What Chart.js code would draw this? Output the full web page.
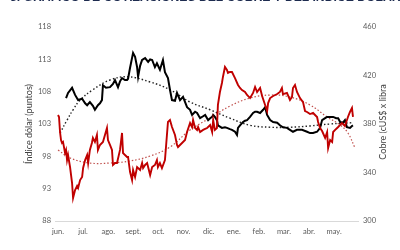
<!DOCTYPE html>
<html><head><meta charset="utf-8">
<script src="https://cdn.jsdelivr.net/npm/chart.js@4.4.1/dist/chart.umd.min.js"></script>
<style>
html,body{margin:0;padding:0;background:#fff;}
#wrap{position:relative;width:400px;height:250px;overflow:hidden;background:#fff;}
#title{position:absolute;left:10px;top:-10px;font:bold 12.2px "Liberation Sans",Arial,sans-serif;color:#1d2b4f;white-space:nowrap;}
canvas{position:absolute;left:0;top:0;}
</style></head><body>
<div id="wrap"><canvas id="c" width="400" height="250"></canvas><div id="title">3. GRÁFICO DE COTIZACIONES DEL COBRE Y DEL ÍNDICE DÓLAR</div></div>
<script>
const months = ['jun.','jul.','ago.','sept.','oct.','nov.','dic.','ene.','feb.','mar.','abr.','may.'];

// Índice dólar (left axis), time in months from June
const dollarT = [0.32,0.40,0.56,0.68,0.80,0.96,1.08,1.16,1.27,1.39,1.47,1.59,1.67,1.75,1.79,1.91,2.07,2.19,2.27,2.39,2.47,2.55,2.67,2.75,2.79,2.87,2.99,3.07,3.15,3.19,3.27,3.35,3.47,3.59,3.67,3.75,3.86,3.94,4.06,4.18,4.26,4.38,4.46,4.54,4.66,4.74,4.86,4.98,5.14,5.26,5.34,5.46,5.54,5.66,5.78,5.86,5.98,6.06,6.14,6.18,6.25,6.33,6.37,6.53,6.65,6.73,6.85,6.93,7.05,7.13,7.17,7.25,7.37,7.45,7.53,7.65,7.77,7.85,7.93,8.05,8.17,8.25,8.33,8.45,8.57,8.73,8.84,8.96,9.12,9.24,9.36,9.52,9.64,9.72,9.92,10.04,10.16,10.32,10.44,10.52,10.64,10.72,10.84,10.96,11.08,11.16,11.24,11.35,11.43,11.51,11.63,11.71,11.75];
const dollarV = [107.0,107.8,108.6,107.5,106.7,106.9,106.2,105.9,106.4,105.8,105.2,105.9,106.2,106.7,109.0,108.6,108.7,109.2,109.8,108.7,109.6,110.1,109.8,109.8,110.0,111.7,114.0,113.4,111.8,110.3,112.0,112.9,113.2,112.6,113.0,112.9,111.8,112.4,111.4,112.9,111.0,110.1,108.3,106.7,106.6,107.8,106.7,107.2,105.6,105.2,104.4,104.9,104.7,103.9,104.2,104.4,103.6,103.9,104.1,104.4,104.1,103.6,102.8,102.4,102.5,102.4,102.2,102.1,101.8,101.3,102.4,102.8,103.3,103.5,103.6,104.1,104.7,104.9,104.9,104.7,105.2,105.6,104.4,103.6,103.3,103.2,102.8,102.5,102.4,102.1,101.8,102.1,102.1,102.1,101.8,101.6,101.6,101.8,102.4,103.6,103.9,104.1,104.1,104.1,103.9,103.9,103.3,103.2,103.6,102.5,102.4,102.7,102.8];

// Cobre (right axis)
const copperT = [0,0.04,0.08,0.12,0.16,0.20,0.28,0.32,0.36,0.40,0.48,0.56,0.60,0.68,0.76,0.80,0.88,0.96,1.00,1.08,1.16,1.20,1.27,1.35,1.39,1.47,1.55,1.59,1.67,1.79,1.87,1.95,1.99,2.07,2.15,2.19,2.27,2.35,2.47,2.55,2.59,2.67,2.75,2.79,2.87,2.95,2.99,3.07,3.15,3.27,3.35,3.39,3.47,3.55,3.67,3.75,3.78,3.86,3.94,3.98,4.06,4.14,4.26,4.38,4.46,4.54,4.66,4.74,4.78,4.86,4.94,5.06,5.14,5.26,5.34,5.38,5.46,5.54,5.58,5.66,5.78,5.86,5.94,6.06,6.14,6.18,6.25,6.33,6.37,6.45,6.53,6.57,6.65,6.73,6.77,6.85,6.93,7.05,7.17,7.25,7.33,7.45,7.53,7.65,7.77,7.85,7.93,8.05,8.13,8.25,8.33,8.37,8.45,8.57,8.73,8.84,8.92,8.96,9.12,9.24,9.32,9.36,9.44,9.52,9.64,9.76,9.84,9.92,10.04,10.16,10.32,10.36,10.44,10.52,10.64,10.72,10.76,10.84,10.92,10.96,11.04,11.12,11.16,11.24,11.31,11.43,11.51,11.55,11.63,11.71,11.75];
const copperV = [387.4,385.8,373.4,366.8,364.3,365.2,356.1,358.6,350.3,354.4,344.5,331.3,319.0,325.6,328.9,327.2,333.8,336.3,343.7,350.3,354.4,347.8,358.6,364.3,368.5,365.2,370.9,358.6,362.7,365.2,370.9,376.7,366.8,362.7,358.6,346.2,347.8,347.8,358.6,372.6,356.1,354.4,352.8,352.8,340.4,333.8,342.1,336.3,344.5,342.1,347.8,343.7,346.2,347.8,337.9,344.5,344.5,346.2,350.3,344.5,347.8,343.7,350.3,381.7,383.3,377.5,370.9,362.7,361.0,362.7,364.3,366.8,373.4,380.8,377.5,383.3,376.7,375.1,377.5,373.4,375.1,375.9,376.7,379.2,373.4,383.3,375.1,376.7,395.7,406.4,413.8,418.8,427.0,424.5,422.1,422.9,422.9,417.9,412.2,409.7,408.0,406.4,403.9,401.4,405.6,410.5,406.4,409.7,403.1,395.7,390.7,397.3,401.4,403.1,404.7,406.4,409.7,404.7,405.6,399.8,402.3,409.7,412.2,406.4,401.4,398.1,390.7,389.9,388.2,389.1,385.8,381.7,376.7,374.2,368.5,373.4,360.2,366.8,365.2,373.4,375.1,376.7,377.5,379.2,380.8,378.4,383.3,385.8,389.9,393.2,385.8];

// Trend lines
const dollarTrendT = [0.08,0.36,0.60,0.88,1.39,2.07,2.79,3.67,4.46,5.26,6.06,6.85,7.65,8.45,9.24,10.04,10.84,11.75];
const dollarTrendV = [101.6,103.6,105.2,106.7,108.3,109.8,110.3,109.5,108.3,106.4,105.2,103.9,102.8,102.5,102.5,102.7,103.0,103.2];
const copperTrendT = [0,0.48,1.27,2.07,2.87,3.67,4.46,5.26,6.06,6.85,7.65,8.45,9.24,10.04,10.72,11.24,11.55,11.83];
const copperTrendV = [358.6,352.0,347.8,347.8,349.5,353.6,361.0,375.1,385.0,394.8,401.4,403.9,402.3,395.7,385.8,379.2,372.6,360.2];

const leftTicks = [88,93,98,103,108,113,118];
const rightTicks = [300,340,380,420,460];

const pts = (t, v) => t.map((x, i) => ({x: x, y: v[i]}));

const tickFont = {family: 'Lato', size: 7.5};
const tickColor = '#595959';

const rightTitle = {
  id: 'rightTitle',
  afterDraw(chart) {
    const ctx = chart.ctx;
    const a = chart.chartArea;
    ctx.save();
    ctx.translate(383, (a.top + a.bottom) / 2 - 2);
    ctx.rotate(-Math.PI / 2);
    ctx.font = '9px Lato';
    ctx.fillStyle = '#404040';
    ctx.textAlign = 'center';
    ctx.textBaseline = 'middle';
    ctx.fillText('Cobre (cUS$ x libra', 0, 0);
    ctx.restore();
  }
};

new Chart(document.getElementById('c'), {
  type: 'line',
  data: {
    datasets: [
      {label: 'Cobre', data: pts(copperT, copperV), yAxisID: 'y1', borderColor: '#c00000', borderWidth: 1.9, pointRadius: 0, tension: 0, fill: false},
      {label: 'Índice dólar', data: pts(dollarT, dollarV), yAxisID: 'y', borderColor: '#000000', borderWidth: 2, pointRadius: 0, tension: 0, fill: false},
      {label: 'Tendencia cobre', data: pts(copperTrendT, copperTrendV), yAxisID: 'y1', borderColor: '#c0504d', borderWidth: 1.2, borderDash: [1.5, 2], pointRadius: 0, tension: 0.4, fill: false},
      {label: 'Tendencia dólar', data: pts(dollarTrendT, dollarTrendV), yAxisID: 'y', borderColor: '#222222', borderWidth: 1.4, borderDash: [1.5, 2.2], pointRadius: 0, tension: 0.4, fill: false}
    ]
  },
  options: {
    responsive: false,
    animation: false,
    devicePixelRatio: 1,
    layout: {padding: {top: 27, left: 20, right: 0, bottom: 0}},
    plugins: {legend: {display: false}, tooltip: {enabled: false}},
    scales: {
      x: {
        type: 'linear', min: -0.12, max: 11.95,
        afterBuildTicks: s => { s.ticks = months.map((m, i) => ({value: i})); },
        afterFit: s => { s.height = 29; },
        grid: {display: false, drawTicks: false},
        border: {display: true, color: '#d9d9d9', width: 1},
        ticks: {font: tickFont, color: tickColor, padding: 6, autoSkip: false, maxRotation: 0,
          callback: v => months[v]}
      },
      y: {
        position: 'left', min: 88, max: 118,
        afterBuildTicks: s => { s.ticks = leftTicks.map(v => ({value: v})); },
        afterFit: s => { s.width = 35; },
        grid: {display: false, drawTicks: false},
        border: {display: false},
        ticks: {font: tickFont, color: tickColor, padding: 4},
        title: {display: true, text: 'Índice dólar (puntos)', font: {family: 'Lato', size: 9}, color: '#404040', padding: {top: 4, bottom: 0}}
      },
      y1: {
        position: 'right', min: 300, max: 460,
        afterBuildTicks: s => { s.ticks = rightTicks.map(v => ({value: v})); },
        afterFit: s => { s.width = 42; },
        grid: {display: false, drawTicks: false},
        border: {display: false},
        ticks: {font: tickFont, color: tickColor, padding: 5}
      }
    }
  },
  plugins: [rightTitle]
});
</script>
</body></html>
